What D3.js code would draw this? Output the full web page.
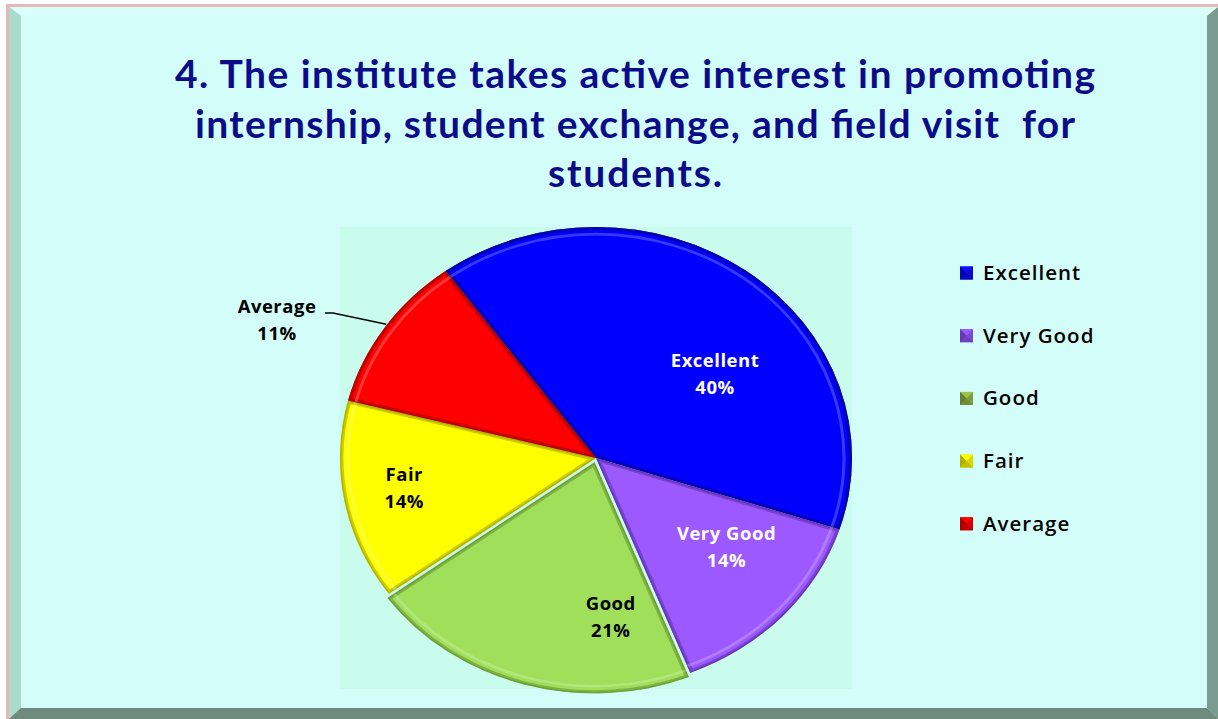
<!DOCTYPE html>
<html>
<head>
<meta charset="utf-8">
<script src="https://cdn.jsdelivr.net/npm/d3@7/dist/d3.min.js"></script>
<style>
  html, body { margin: 0; padding: 0; background: #ffffff; }
  svg { display: block; }
  text { white-space: pre; }
</style>
</head>
<body>
<svg id="chart"></svg>
<script>
/* ---------- data ---------- */
const categories = ['Excellent', 'Very Good', 'Good', 'Fair', 'Average'];
const values     = [40, 14, 21, 14, 11];
const colors     = ['#0000ff', '#9b59ff', '#9fdf5a', '#ffff00', '#ff0000'];
const rimColors  = ['#00008a', '#5a2aa8', '#5f8a2a', '#9a9a00', '#a00000'];
const legendColors = ['#0a0ad0', '#7a48d8', '#7c9e3c', '#d8d800', '#d80000'];
const labelColors  = ['#ffffff', '#ffffff', '#000000', '#000000', '#000000'];
const titleLines = [
  '4. The institute takes active interest in promoting',
  'internship, student exchange, and field visit  for',
  'students.'
];
const titleWidths = [920, 880, 174];

/* ---------- layout ---------- */
const W = 1218, H = 719;
const FONT = 'Lato, "Open Sans", sans-serif';
const LFONT = '"Open Sans", Lato, sans-serif';
const cx = 596, cy = 458, rx = 256, ry = 231;
const startDeg = -36;

const svg = d3.select('#chart').attr('width', W).attr('height', H);

/* ---------- frame ---------- */
svg.append('rect').attr('x', 6).attr('y', 4).attr('width', W - 6).attr('height', H - 4)
  .attr('fill', '#e8b8b8');
svg.append('polygon').attr('points', `9,7 ${W},7 ${W - 11},16 21,16`).attr('fill', '#d9fffb');
svg.append('polygon').attr('points', `9,7 21,16 21,${H - 11} 9,${H}`).attr('fill', '#a9dccb');
svg.append('polygon').attr('points', `${W},7 ${W},${H} ${W - 11},${H - 11} ${W - 11},16`).attr('fill', '#7a9b90');
svg.append('polygon').attr('points', `9,${H} 21,${H - 11} ${W - 11},${H - 11} ${W},${H}`).attr('fill', '#6f8b80');
svg.append('rect').attr('x', 21).attr('y', 16).attr('width', W - 32).attr('height', H - 27)
  .attr('fill', '#d3fdf9');

/* ---------- title ---------- */
titleLines.forEach((t, i) => {
  svg.append('text')
    .attr('x', 635).attr('y', 88 + i * 49.5)
    .attr('text-anchor', 'middle')
    .attr('font-family', FONT).attr('font-weight', 700).attr('font-size', 39)
    .attr('fill', '#0c0c8a')
    .attr('textLength', titleWidths[i]).attr('lengthAdjust', 'spacing')
    .text(t);
});

/* ---------- plot area ---------- */
svg.append('rect').attr('x', cx - rx).attr('y', cy - ry).attr('width', 2 * rx).attr('height', 2 * ry)
  .attr('fill', '#c9fcec');

/* ---------- pie ---------- */
const pie = d3.pie().sort(null)
  .startAngle(startDeg * Math.PI / 180)
  .endAngle((startDeg + 360) * Math.PI / 180);
const arcs = pie(values);
const arc = d3.arc().innerRadius(0).outerRadius(rx);
const rim = d3.arc().innerRadius(rx - 8).outerRadius(rx - 8);
const explode = [0, 0, 5, 0, 0];

const defs = svg.append('defs');
const pg = svg.append('g')
  .attr('transform', `translate(${cx},${cy}) scale(1,${ry / rx})`);

arcs.forEach((a, i) => {
  const mid = (a.startAngle + a.endAngle) / 2;
  const off = explode[i];
  const g = pg.append('g')
    .attr('transform', `translate(${Math.sin(mid) * off},${-Math.cos(mid) * off})`);
  const id = 'clip' + i;
  defs.append('clipPath').attr('id', id).attr('clipPathUnits', 'userSpaceOnUse')
    .append('path').attr('d', arc(a));
  g.append('path').attr('d', arc(a)).attr('fill', colors[i]);
  const cg = g.append('g').attr('clip-path', `url(#${id})`);
  cg.append('path').attr('d', arc(a))
    .attr('fill', 'none').attr('stroke', rimColors[i]).attr('stroke-width', 7).attr('stroke-opacity', 0.5);
  cg.append('path').attr('d', arc(a))
    .attr('fill', 'none').attr('stroke', rimColors[i]).attr('stroke-width', 3).attr('stroke-opacity', 0.5);
  cg.append('path').attr('d', rim({ startAngle: a.startAngle, endAngle: a.endAngle }))
    .attr('fill', 'none').attr('stroke', '#ffffff').attr('stroke-width', 3).attr('stroke-opacity', 0.22);
});

/* ---------- data labels ---------- */
const labelPlace = [
  { dAng: 16, r: 0.59 },
  { dAng: -6, r: 0.64 },
  { dAng: -21, r: 0.69 },
  { dAng: 1, r: 0.76 },
];
const pct = d3.format('.0%');
const total = d3.sum(values);

arcs.forEach((a, i) => {
  let lx, ly;
  const mid = (a.startAngle + a.endAngle) / 2;
  if (i < 4) {
    const ang = mid + labelPlace[i].dAng * Math.PI / 180;
    lx = cx + Math.sin(ang) * rx * labelPlace[i].r;
    ly = cy - Math.cos(ang) * ry * labelPlace[i].r;
  } else {
    const ex = cx + Math.sin(mid) * rx, ey = cy - Math.cos(mid) * ry;
    lx = 277; ly = 320;
    svg.append('polyline')
      .attr('points', `${lx + 48},${ly - 7} ${lx + 56},${ly - 7} ${ex + 2},${ey - 4}`)
      .attr('fill', 'none').attr('stroke', '#000').attr('stroke-width', 1.5);
  }
  const t = svg.append('text').attr('text-anchor', 'middle')
    .attr('font-family', LFONT).attr('font-weight', 700).attr('font-size', 18.5)
    .attr('letter-spacing', 0.5)
    .attr('fill', labelColors[i]);
  t.append('tspan').attr('x', lx).attr('y', ly - 7).text(categories[i]);
  t.append('tspan').attr('x', lx).attr('y', ly + 20).text(pct(values[i] / total));
});

/* ---------- legend ---------- */
const ly0 = 273, lstep = 62.7;
categories.forEach((c, i) => {
  const y = ly0 + i * lstep;
  const x0 = 960, s = 13;
  const g = svg.append('g').attr('transform', `translate(${x0},${y - s / 2})`);
  const base = d3.color(legendColors[i]);
  g.append('rect').attr('width', s).attr('height', s).attr('fill', base);
  g.append('polygon').attr('points', `0,0 ${s},0 ${s / 2},${s / 2}`).attr('fill', base.brighter(0.6));
  g.append('polygon').attr('points', `0,0 0,${s} ${s / 2},${s / 2}`).attr('fill', base.darker(0.6));
  g.append('polygon').attr('points', `0,${s} ${s},${s} ${s / 2},${s / 2}`).attr('fill', base.darker(0.3));
  svg.append('text').attr('x', 983).attr('y', y + 7)
    .attr('font-family', LFONT).attr('font-size', 20.5).attr('font-weight', 600)
    .attr('letter-spacing', 1).attr('fill', '#000')
    .text(c);
});
</script>
</body>
</html>
